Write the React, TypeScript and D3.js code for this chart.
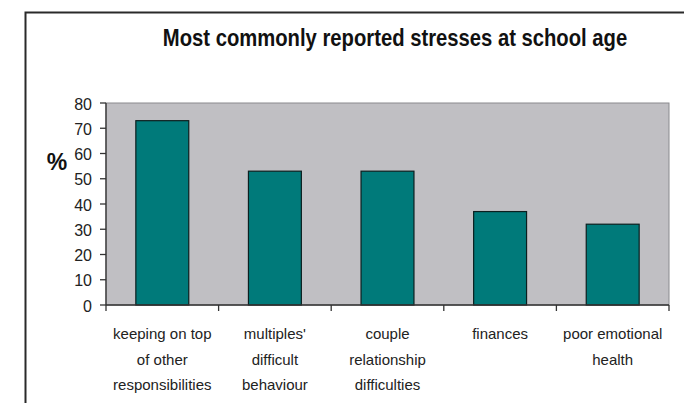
import React from "react";
import * as d3 from "d3";

const categories: string[][] = [
  ["keeping on top", "of other", "responsibilities"],
  ["multiples'", "difficult", "behaviour"],
  ["couple", "relationship", "difficulties"],
  ["finances"],
  ["poor emotional", "health"],
];
const values: number[] = [73, 53, 53, 37, 32];
const yTicks: number[] = [0, 10, 20, 30, 40, 50, 60, 70, 80];
const title = "Most commonly reported stresses at school age";
const yLabel = "%";

const W = 684;
const H = 403;
const plot = { left: 106, right: 669, top: 103, bottom: 305 };
const FONT = "Arial, 'Liberation Sans', Helvetica, sans-serif";

export default function App() {
  const keys = categories.map((c) => c.join(" "));
  const x = d3
    .scaleBand<string>()
    .domain(keys)
    .range([plot.left, plot.right])
    .paddingInner(0.53)
    .paddingOuter(0.265);
  const y = d3.scaleLinear().domain([0, 80]).range([plot.bottom, plot.top]);
  const step = x.step();
  const boundaries = d3.range(keys.length + 1).map((i) => plot.left + i * step);

  return (
    <>
      <style>{`body{margin:0;background:#fff}`}</style>
      <svg width={W} height={H} style={{ display: "block" }}>
        <rect x={0} y={0} width={W} height={H} fill="#fff" />
        {/* outer frame */}
        <path d={`M25.5,${H + 5} L25.5,12.5 L${W + 5},12.5`} fill="none" stroke="#2a2a2a" strokeWidth={2} />
        {/* title */}
        <text
          transform="translate(395,46) scale(0.88,1)"
          textAnchor="middle"
          fontFamily={FONT}
          fontWeight="bold"
          fontSize={23}
          fill="#111"
        >
          {title}
        </text>
        {/* plot area */}
        <rect
          x={plot.left}
          y={plot.top}
          width={plot.right - plot.left}
          height={plot.bottom - plot.top}
          fill="#c0bfc3"
          stroke="#8a8a8e"
          strokeWidth={1}
        />
        {/* bars */}
        {values.map((v, i) => (
          <rect
            key={keys[i]}
            x={x(keys[i])!}
            y={y(v)}
            width={x.bandwidth()}
            height={y(0) - y(v)}
            fill="#007a7a"
            stroke="#0b1f1f"
            strokeWidth={1.2}
          />
        ))}
        {/* y axis */}
        <line x1={plot.left} x2={plot.left} y1={plot.top} y2={plot.bottom} stroke="#333" strokeWidth={1.3} />
        {yTicks.map((t) => (
          <g key={t}>
            <line x1={plot.left - 6} x2={plot.left} y1={y(t)} y2={y(t)} stroke="#333" strokeWidth={1.3} />
            <text
              x={92}
              y={y(t) + 1}
              textAnchor="end"
              dominantBaseline="central"
              fontFamily={FONT}
              fontSize={16}
              fill="#222"
            >
              {t}
            </text>
          </g>
        ))}
        <text x={57} y={170} textAnchor="middle" fontFamily={FONT} fontWeight="bold" fontSize={23} fill="#111">
          {yLabel}
        </text>
        {/* x axis */}
        <line x1={plot.left} x2={plot.right} y1={plot.bottom} y2={plot.bottom} stroke="#333" strokeWidth={1.3} />
        {boundaries.map((b, i) => (
          <line key={i} x1={b} x2={b} y1={plot.bottom} y2={plot.bottom + 6} stroke="#333" strokeWidth={1.3} />
        ))}
        {categories.map((lines, i) => (
          <text
            key={keys[i]}
            textAnchor="middle"
            fontFamily={FONT}
            fontSize={15}
            fill="#222"
          >
            {lines.map((ln, j) => (
              <tspan key={j} x={x(keys[i])! + x.bandwidth() / 2} y={339 + j * 25.5}>
                {ln}
              </tspan>
            ))}
          </text>
        ))}
      </svg>
    </>
  );
}
